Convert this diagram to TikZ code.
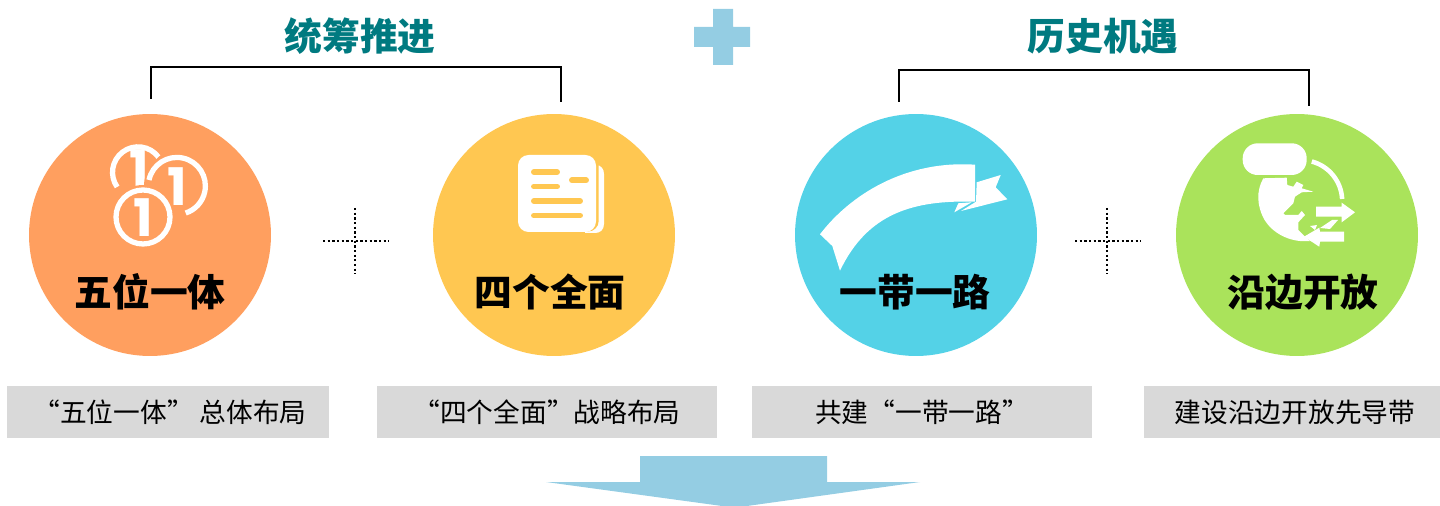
\documentclass[tikz,border=0pt]{standalone}
\usepackage{fontspec}
\setmainfont{Noto Sans CJK SC}
\newfontfamily\coinfont{Poppins}
\usepackage{xcolor}
\usetikzlibrary{positioning}
\definecolor{coinorange}{HTML}{FF9F5F}
\definecolor{pageyellow}{HTML}{FFC751}
\definecolor{ribbonblue}{HTML}{54D2E7}
\definecolor{globegreen}{HTML}{AAE35B}
\definecolor{plusblue}{HTML}{94CDE3}
\definecolor{headteal}{HTML}{007A80}
\definecolor{capgrey}{HTML}{D9D9D9}

\begin{document}
\begin{tikzpicture}[x=0.02cm,y=-0.02cm,
    disc/.style={circle,minimum size=4.84cm,inner sep=0pt},
    headtext/.style={font=\fontsize{21.5}{25}\selectfont\bfseries,text=headteal,inner sep=0pt},
    disctext/.style={font=\fontsize{21.5}{25}\selectfont\bfseries,text=black,inner sep=0pt},
    captext/.style={font=\fontsize{15.2}{18}\selectfont,text=black,inner sep=0pt},
    capbox/.style={fill=capgrey,minimum height=1.04cm,inner sep=0pt},
    coinone/.style={font=\fontsize{29.5}{32}\coinfont\bfseries,text=white,inner sep=0pt},
    bracket/.style={line width=1.6pt,black},
    crossline/.style={line width=1.3pt,black,dash pattern=on 1.3pt off 1.35pt}]
    \useasboundingbox (0,0) rectangle (1440,506);

    % Headings and the plus sign
    \node[headtext] (headleft) at (360,36) {统筹推进};
    \node[headtext] (headright) at (1103,36) {历史机遇};
    \fill[plusblue] (713,9) -- (733,9) -- (733,27) -- (750,27) -- (750,47) -- (733,47) -- (733,65) -- (713,65) -- (713,47) -- (694,47) -- (694,27) -- (713,27) -- cycle;

    % Brackets
    \coordinate (brackA) at (151,99);
    \coordinate (brackB) at (561,102);
    \coordinate (brackC) at (899,102);
    \coordinate (brackD) at (1309,106);
    \draw[bracket] (brackA) -- (151,67) -- (561,67) -- (brackB);
    \draw[bracket] (brackC) -- (899,70) -- (1309,70) -- (brackD);

    % Discs
    \node[disc,fill=coinorange] (five) at (150,235) {};
    \node[disc,fill=pageyellow] (four) at (554,235) {};
    \node[disc,fill=ribbonblue] (belt) at (916,235) {};
    \node[disc,fill=globegreen] (open) at (1297,235) {};

    % Coins
    \draw[white,line width=3pt] (158.4,157) arc[start angle=-37,end angle=-215,radius=25.5];
    \node[coinone] (coinback) at (139,169) {1};
    \fill[coinorange] (177,186) circle (33);
    \draw[white,line width=3pt] (149,180) arc[start angle=192,end angle=432,radius=28.5];
    \node[coinone] (coinmid) at (177,187) {1};
    \fill[coinorange] (143,217) circle (32);
    \draw[white,line width=3pt] (143,217) circle (27);
    \node[coinone] (coinfront) at (143,218) {1};

    % Paper
    \fill[white] (585,165) -- (596,165) .. controls (601,165) and (604,169) .. (604,174) -- (604,224) .. controls (604,230) and (600,233) .. (595,233) -- (585,233) -- cycle;
    \fill[pageyellow,rounded corners=6pt] (575,150) rectangle (598.7,231.5);
    \fill[white,rounded corners=6pt] (518,155) rectangle (596,232);
    \foreach \xa/\xb/\yy in {531/560/172,531/560/186.5,569/589/180.3,531/583/201,531/583/215.5}
        \draw[pageyellow,line width=3.4pt,line cap=round] (\xa+3,\yy) -- (\xb-3,\yy);

    % Ribbon
    \fill[white] (820,234.3) .. controls (850,195) and (905,160) .. (975,164.7) -- (975,201.7) .. controls (915,200) and (868,212) .. (840,270.7) -- (832.3,246) -- cycle;
    \fill[white] (954.3,212.3) -- (958.3,203.3) -- (971.7,202.3) -- cycle;
    \fill[white] (976.7,182.3) -- (1000.7,175) -- (995.7,187.3) -- (1007.3,199.3) -- (961,211) -- (976,201.7) -- cycle;

    % Globe
    \fill[white] (1263.3,178.3) -- (1286.7,177.7) -- (1287.3,185) -- (1293.3,186.7) -- (1296.7,181.7) -- (1303.3,185) -- (1301.7,188.3) -- (1313.3,191.7) -- (1301.7,192.3) -- (1295,196.7) -- (1293.3,203.3) -- (1283.3,213.3) -- (1285,215) -- (1298.3,215) -- (1301.7,211) -- (1305,215) -- (1298.3,222.3) -- (1298.3,230) -- (1305,236.7) -- (1310,241) .. controls (1290,243) and (1272,233) .. (1264,219) .. controls (1257,206) and (1256,191) .. (1263.3,178.3) -- cycle;
    \fill[white,rounded corners=8.5pt] (1242.7,143.3) rectangle (1306.7,175);
    \draw[white,line width=2.6pt] (1311.8,161.5) arc[start angle=-75,end angle=-3,radius=41];
    \fill[globegreen] (1312,204) rectangle (1344,226);
    \fill[white] (1316,206.7) -- (1341.7,206.7) -- (1341.7,202.7) -- (1355,212.3) -- (1341.7,222.3) -- (1341.7,216.7) -- (1316,216.7) -- cycle;
    \fill[white] (1344,231.7) -- (1320,231.7) -- (1319.3,227.7) -- (1304,236.7) -- (1319.3,246.7) -- (1320,241.7) -- (1344,241.7) -- cycle;
    \fill[white] (1320,228) -- (1332,220) -- (1338,220) -- (1330,229) -- cycle;
    \fill[white] (1310,226) -- (1317,225) -- (1315,230) -- cycle;

    % Disc labels
    \node[disctext] (fivetext) at (150,292) {五位一体};
    \node[disctext] (fourtext) at (550,292) {四个全面};
    \node[disctext] (belttext) at (915,292) {一带一路};
    \node[disctext] (opentext) at (1303,292) {沿边开放};

    % Dotted crosses
    \foreach \cx in {355,1107} {
        \draw[crossline] (\cx-32,240.7) -- (\cx+34,240.7);
        \draw[crossline] (\cx,208) -- (\cx,274);
    }

    % Caption boxes
    \node[capbox,minimum width=6.44cm] (capa) at (168,412) {};
    \node[capbox,minimum width=6.8cm] (capb) at (547,412) {};
    \node[capbox,minimum width=6.8cm] (capc) at (922,412) {};
    \node[capbox,minimum width=5.92cm] (capd) at (1292,412) {};
    \node[captext] (capatext) at (170,412) {“五位一体” 总体布局};
    \node[captext] (capbtext) at (547,412) {“四个全面”战略布局};
    \node[captext] (capctext) at (922,412) {共建“一带一路”};
    \node[captext] (capdtext) at (1295,412) {建设沿边开放先导带};

    % Down arrow
    \fill[plusblue] (640,456) -- (827,456) -- (827,482) -- (920,482) -- (747,506) -- (722,506) -- (546,482) -- (640,482) -- cycle;
\end{tikzpicture}
\end{document}
